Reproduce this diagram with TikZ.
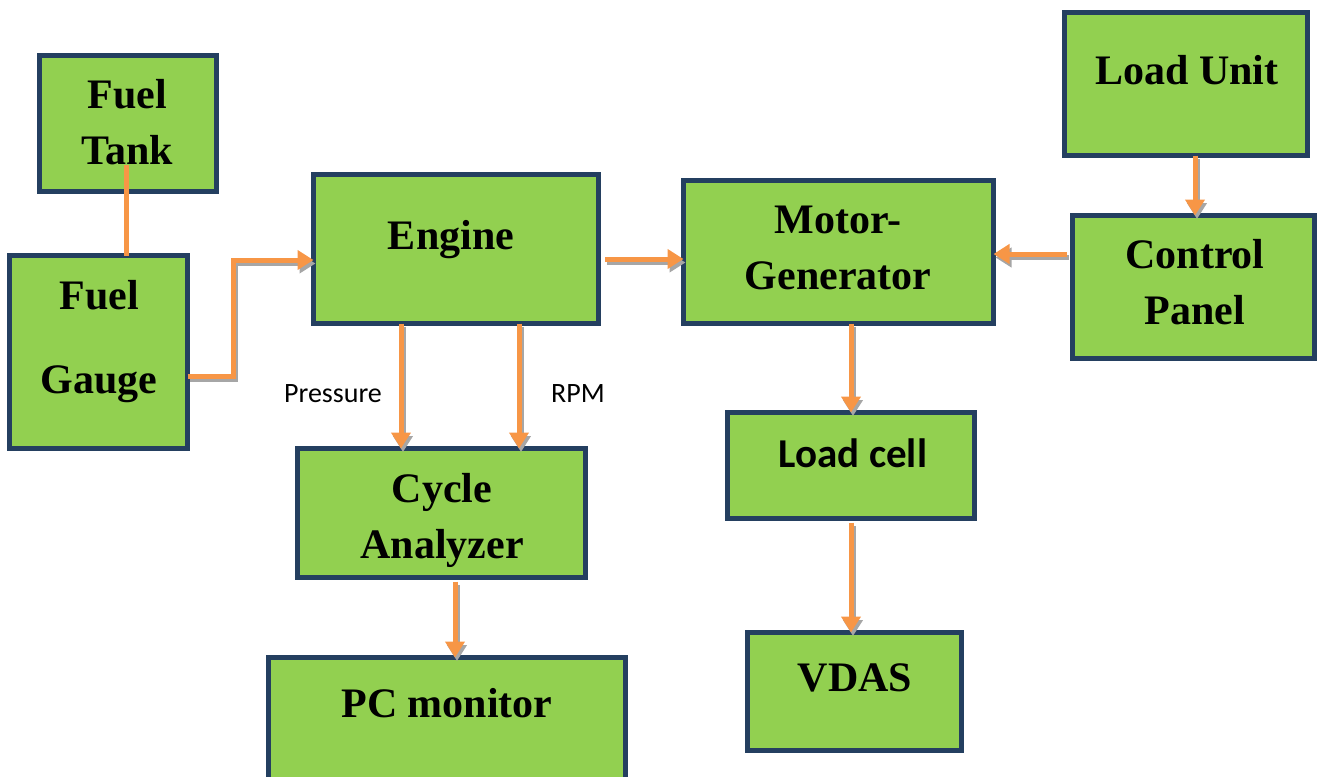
\documentclass[tikz,border=0pt]{standalone}
\usepackage{fontspec}
\setmainfont{Liberation Serif}
\newfontfamily\calfont{Carlito}
\usetikzlibrary{arrows.meta}
\definecolor{boxfill}{HTML}{92D050}
\definecolor{boxedge}{HTML}{243F60}
\definecolor{conncol}{HTML}{F79646}
\definecolor{shadcol}{HTML}{A6A6A6}
\newcommand{\mybox}[5]{%
  \node[box, minimum width={(#4-#2-5)*0.5pt}, minimum height={(#5-#3-5)*0.5pt}]
    (#1) at ({(#2+#4)/2},{(#3+#5)/2}) {};}
\begin{document}
\begin{tikzpicture}[x=0.5pt,y=-0.5pt,
  box/.style={rectangle, draw=boxedge, fill=boxfill, line width=2.5pt, inner sep=0pt, outer sep=0pt},
  lbl/.style={font=\bfseries\fontsize{21}{28}\selectfont, align=center, inner sep=0pt},
  sanslbl/.style={font=\calfont\bfseries\fontsize{20.5}{24}\selectfont, inner sep=0pt},
  small/.style={font=\calfont\fontsize{14}{17}\selectfont, inner sep=0pt},
  tip/.style={-{Triangle[length=8pt,width=9.5pt]}},
  conn/.style={draw=conncol, line width=2.5pt, tip,
    preaction={draw=shadcol, line width=2.5pt, tip, transform canvas={shift={(1pt,-1.75pt)}}}},
  plainconn/.style={draw=conncol, line width=2.5pt}
]
\useasboundingbox (0,0) rectangle (1320,776);
\mybox{ft}{37}{53}{219}{194}
\mybox{fg}{7}{253}{190}{451}
\mybox{en}{311}{172}{601}{326}
\mybox{mg}{681}{178}{996}{326}
\mybox{lu}{1062}{10}{1310}{158}
\mybox{cp}{1070}{213}{1317}{361}
\mybox{ca}{295}{446}{588}{580}
\mybox{lc}{725}{410}{977}{521}
\mybox{pc}{266}{655}{628}{790}
\mybox{vd}{745}{630}{964}{753}

\node[lbl] (tft) at (127,122) {Fuel\\Tank};
\node[lbl, font=\bfseries\fontsize{21}{42}\selectfont] (tfg) at (99,342) {Fuel\\Gauge};
\node[lbl] (ten) at (451,240) {Engine};
\node[lbl] (tmg) at (838,248) {Motor-\\Generator};
\node[lbl] (tlu) at (1187,70) {Load Unit};
\node[lbl] (tcp) at (1195,282) {Control\\Panel};
\node[lbl] (tca) at (442,520) {Cycle\\Analyzer};
\node[sanslbl] (tlc) at (853,453) {Load cell};
\node[lbl] (tpc) at (447,703) {PC monitor};
\node[lbl] (tvd) at (855,678) {VDAS};
\node[small] (tpr) at (333,394) {Pressure};
\node[small] (trpm) at (578,394) {RPM};

\draw[plainconn] (126,167 |- tft.south) -- (126,0 |- fg.north);
\draw[conn] (fg.east |- 0,376) -- (233,376) -- (233,260) -- (en.west |- 0,260);
\draw[conn] (605,0 |- 0,259) -- (mg.west |- 0,259);
\draw[conn] (cp.west |- 0,254) ++(-6,0) -- (mg.east |- 0,254);
\draw[conn] (1195,0 |- lu.south) -- (1195,0 |- cp.north);
\draw[conn] (401,0 |- en.south) -- (401,0 |- ca.north);
\draw[conn] (519,0 |- en.south) -- (519,0 |- ca.north);
\draw[conn] (851,0 |- mg.south) -- (851,0 |- lc.north);
\draw[conn] (851,0 |- lc.south) ++(0,4) -- (851,0 |- vd.north);
\draw[conn] (455,0 |- ca.south) ++(0,4) -- (455,0 |- pc.north);
\end{tikzpicture}
\end{document}
